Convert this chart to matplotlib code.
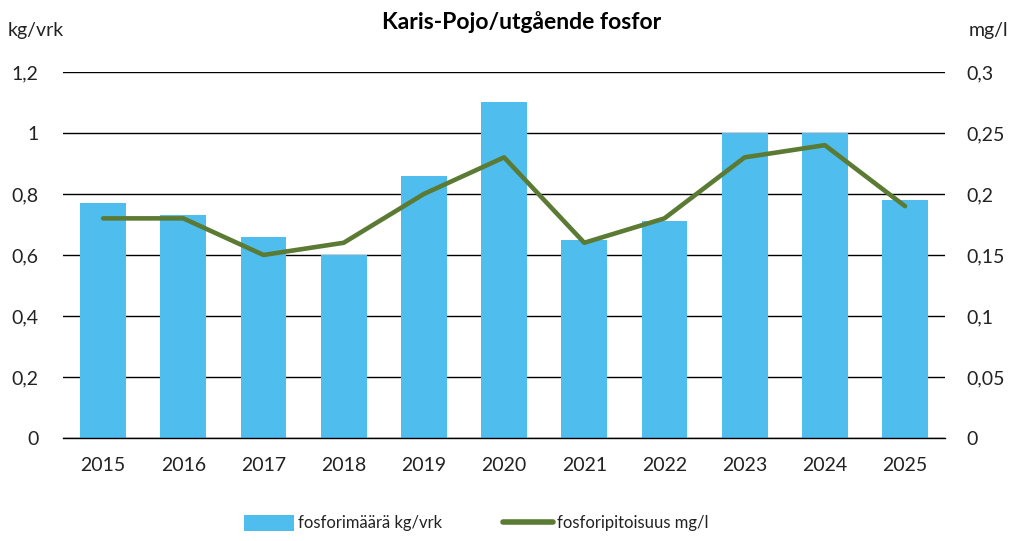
import matplotlib
matplotlib.use("Agg")
import matplotlib.pyplot as plt
from matplotlib.lines import Line2D
from matplotlib.patches import Patch

years = ["2015", "2016", "2017", "2018", "2019", "2020", "2021", "2022", "2023", "2024", "2025"]
amount = [0.77, 0.73, 0.66, 0.60, 0.86, 1.10, 0.65, 0.71, 1.00, 1.00, 0.78]
conc = [0.18, 0.18, 0.15, 0.16, 0.20, 0.23, 0.16, 0.18, 0.23, 0.24, 0.19]
left_ticks = [0, 0.2, 0.4, 0.6, 0.8, 1.0, 1.2]
left_labels = ["0", "0,2", "0,4", "0,6", "0,8", "1", "1,2"]
right_ticks = [0, 0.05, 0.1, 0.15, 0.2, 0.25, 0.3]
right_labels = ["0", "0,05", "0,1", "0,15", "0,2", "0,25", "0,3"]

plt.rcParams['font.family'] = ['Lato', 'DejaVu Sans']
BAR = "#4FBEEE"
LINE = "#5B7A33"

fig = plt.figure(figsize=(10.13, 5.41), dpi=100)
ax = fig.add_axes([0.0622, 0.1904, 0.8708, 0.6766])
x = list(range(len(years)))
ax.bar(x, amount, width=0.57, color=BAR, zorder=2)
ax.set_xlim(-0.5, len(years) - 0.5)
ax.set_ylim(0, 1.2)
ax.set_yticks(left_ticks)
ax.set_yticklabels(left_labels, fontsize=14)
ax.set_xticks(x)
ax.set_xticklabels(years, fontsize=14)
ax.tick_params(axis='both', length=0, colors='#222222')
ax.tick_params(axis='y', pad=17.5)
ax.tick_params(axis='x', pad=14)
for s in ["top", "right", "left"]:
    ax.spines[s].set_visible(False)
ax.spines["bottom"].set_color("black")
ax.spines["bottom"].set_linewidth(1)
ax.grid(axis='y', color='black', linewidth=1, zorder=0)
ax.set_axisbelow(True)

ax2 = ax.twinx()
ax2.plot(x, conc, color=LINE, linewidth=3.3, solid_capstyle='round', solid_joinstyle='round', zorder=3)
ax2.set_ylim(0, 0.3)
ax2.set_yticks(right_ticks)
ax2.set_yticklabels(right_labels, fontsize=14)
ax2.tick_params(axis='y', length=0, pad=15.5, colors='#222222')
for s in ["top", "right", "left", "bottom"]:
    ax2.spines[s].set_visible(False)

fig.text(0.515, 0.96, "Karis-Pojo/utgående fosfor", ha='center', va='center',
         fontsize=16.5, fontweight='bold', color='black')
fig.text(0.008, 0.943, "kg/vrk", ha='left', va='center', fontsize=14, color='#222222')
fig.text(0.995, 0.943, "mg/l", ha='right', va='center', fontsize=14, color='#222222')

handles = [Patch(facecolor=BAR, edgecolor='none'),
           Line2D([0], [0], color=LINE, linewidth=4, solid_capstyle='round')]
fig.legend(handles, ["fosforimäärä kg/vrk", "fosforipitoisuus mg/l"],
           loc='center', bbox_to_anchor=(0.470, 0.033), ncol=2, frameon=False,
           fontsize=12, handlelength=3.0, handleheight=1.1, handletextpad=0.2,
           columnspacing=3.7, labelcolor='#222222')

fig.savefig("out.png", dpi=100)
